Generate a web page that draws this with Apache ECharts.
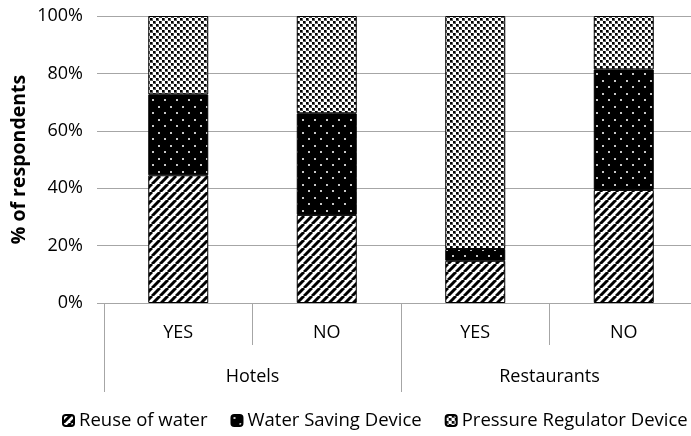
<!DOCTYPE html>
<html>
<head>
<meta charset="utf-8">
<script src="https://cdn.jsdelivr.net/npm/echarts@6/dist/echarts.min.js"></script>
<style>
  html, body { margin: 0; padding: 0; background: #fff; }
  #chart { width: 691px; height: 436px; }
</style>
</head>
<body>
<div id="chart"></div>
<script>
var answers = ['YES', 'NO', 'YES', 'NO'];
var groups = ['Hotels', 'Restaurants'];
var seriesNames = ['Reuse of water', 'Water Saving Device', 'Pressure Regulator Device'];
var reuseWater = [44.5, 30.7, 14.7, 39.4];
var waterSaving = [28.2, 35.4, 4.1, 42.0];
var pressureReg = [27.3, 33.9, 81.2, 18.6];
var yTicks = [0, 20, 40, 60, 80, 100];

// hatch patterns drawn on small canvases
function stripePattern() {
  var c = document.createElement('canvas');
  c.width = 8; c.height = 8;
  var ctx = c.getContext('2d');
  ctx.fillStyle = '#fff';
  ctx.fillRect(0, 0, 8, 8);
  ctx.strokeStyle = '#000';
  ctx.lineWidth = 3;
  [-8, 0, 8].forEach(function (k) {
    ctx.beginPath();
    ctx.moveTo(k, 8);
    ctx.lineTo(k + 8, 0);
    ctx.stroke();
  });
  return c;
}

function dotPattern() {
  var c = document.createElement('canvas');
  c.width = 12; c.height = 13;
  var ctx = c.getContext('2d');
  ctx.fillStyle = '#000';
  ctx.fillRect(0, 0, 12, 13);
  ctx.fillStyle = '#c8c8c8';
  ctx.fillRect(2, 2, 2, 2);
  ctx.fillRect(8, 8, 2, 2);
  return c;
}

function checkPattern() {
  var c = document.createElement('canvas');
  c.width = 6; c.height = 6;
  var ctx = c.getContext('2d');
  ctx.fillStyle = '#fff';
  ctx.fillRect(0, 0, 6, 6);
  ctx.fillStyle = '#000';
  ctx.fillRect(0, 0, 2, 2);
  ctx.fillRect(3, 3, 2, 2);
  ctx.fillStyle = '#5a5a5a';
  ctx.fillRect(2, 0, 1, 3);
  ctx.fillRect(0, 2, 2, 1);
  ctx.fillRect(5, 3, 1, 3);
  ctx.fillRect(3, 5, 2, 1);
  return c;
}

var patterns = [stripePattern(), dotPattern(), checkPattern()];
var values = [reuseWater, waterSaving, pressureReg];

var chart = echarts.init(document.getElementById('chart'), null, { renderer: 'canvas' });

var font = 'Open Sans';

var option = {
  animation: false,
  grid: { left: 104, top: 16, width: 594, height: 287, outerBoundsMode: 'none', containLabel: false },
  legend: {
    data: seriesNames,
    left: 57,
    top: 406,
    width: 660,
    itemWidth: 11,
    itemHeight: 11,
    itemGap: 23,
    textStyle: { fontFamily: font, fontSize: 18.5, color: '#000' }
  },
  xAxis: [{
    type: 'category',
    data: answers,
    position: 'bottom',
    axisLine: { lineStyle: { color: '#a6a6a6', width: 1 } },
    axisTick: { show: true, alignWithLabel: false, interval: 0, length: 42, lineStyle: { color: '#a6a6a6' } },
    axisLabel: { margin: 21, fontFamily: font, fontSize: 18, color: '#000' }
  }, {
    type: 'category',
    data: groups,
    position: 'bottom',
    axisLine: { show: false },
    axisTick: { show: true, alignWithLabel: false, interval: 0, length: 89, lineStyle: { color: '#a6a6a6' } },
    axisLabel: { margin: 65, fontFamily: font, fontSize: 18, color: '#000' }
  }],
  yAxis: {
    type: 'value',
    min: 0,
    max: 100,
    interval: 20,
    name: '% of respondents',
    nameLocation: 'middle',
    nameGap: 75,
    nameMoveOverlap: false,
    nameTextStyle: { fontFamily: font, fontSize: 19.5, fontWeight: 'bold', color: '#000' },
    axisLine: { show: false },
    axisTick: { show: true, length: 7, lineStyle: { color: '#a6a6a6' } },
    splitLine: { lineStyle: { color: '#a6a6a6', width: 1 } },
    axisLabel: {
      margin: 21,
      fontFamily: font,
      fontSize: 18,
      color: '#000',
      formatter: function (v) { return yTicks.indexOf(v) >= 0 ? v + '%' : ''; }
    }
  },
  series: seriesNames.map(function (name, i) {
    return {
      name: name,
      type: 'bar',
      stack: 'total',
      barWidth: 60,
      xAxisIndex: 0,
      data: values[i],
      itemStyle: {
        color: { image: patterns[i], repeat: 'repeat' },
        borderColor: '#000',
        borderWidth: 1
      }
    };
  })
};

chart.setOption(option);
</script>
</body>
</html>
